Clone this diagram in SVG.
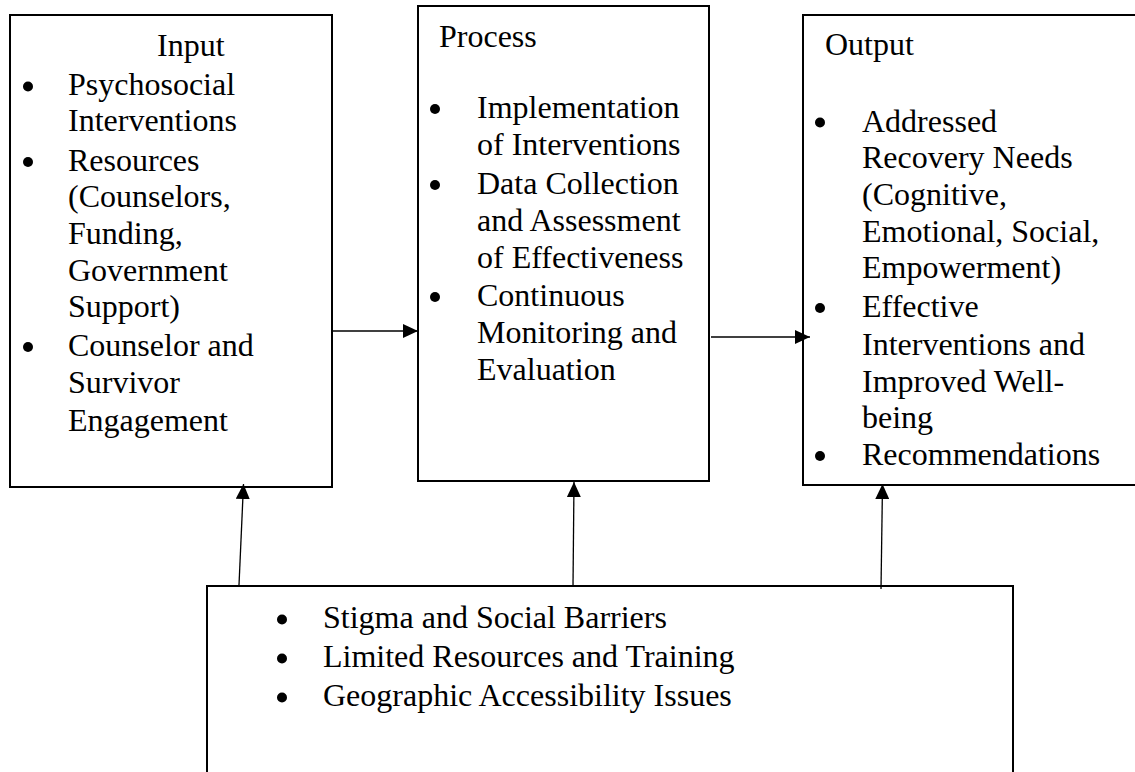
<svg xmlns="http://www.w3.org/2000/svg" width="1135" height="772" viewBox="0 0 1135 772">
  <defs>
    <marker id="arrow" viewBox="0 0 15 14" refX="15" refY="7" markerWidth="15" markerHeight="14" markerUnits="userSpaceOnUse" orient="auto">
      <path d="M0,0 L15,7 L0,14 Z" fill="#000"/>
    </marker>
    <style>
      .box { fill: #fff; stroke: #000; stroke-width: 2; }
      .conn { stroke: #000; stroke-width: 1.3; fill: none; marker-end: url(#arrow); }
      .dot { fill: #000; }
      text { font-family: "Liberation Serif", "Times New Roman", serif; font-size: 32px; fill: #000; }
    </style>
  </defs>
  <rect width="1135" height="772" fill="#fff"/>

  <g id="input">
    <rect class="box" x="10" y="15" width="322" height="472"/>
    <text x="157" y="56">Input</text>
    <circle class="dot" cx="28" cy="86.5" r="5"/>
    <text x="68" y="95">Psychosocial</text>
    <text x="68" y="131">Interventions</text>
    <circle class="dot" cx="28" cy="162" r="5"/>
    <text x="68" y="171">Resources</text>
    <text x="68" y="207">(Counselors,</text>
    <text x="68" y="244">Funding,</text>
    <text x="68" y="281">Government</text>
    <text x="68" y="317">Support)</text>
    <circle class="dot" cx="28" cy="347" r="5"/>
    <text x="68" y="356">Counselor and</text>
    <text x="68" y="393">Survivor</text>
    <text x="68" y="431">Engagement</text>
  </g>

  <g id="process">
    <rect class="box" x="418" y="6" width="291" height="475"/>
    <text x="439" y="47">Process</text>
    <circle class="dot" cx="435" cy="109" r="5"/>
    <text x="477" y="118">Implementation</text>
    <text x="477" y="155">of Interventions</text>
    <circle class="dot" cx="435" cy="185" r="5"/>
    <text x="477" y="194">Data Collection</text>
    <text x="477" y="231">and Assessment</text>
    <text x="477" y="268">of Effectiveness</text>
    <circle class="dot" cx="435" cy="297" r="5"/>
    <text x="477" y="306">Continuous</text>
    <text x="477" y="343">Monitoring and</text>
    <text x="477" y="380">Evaluation</text>
  </g>

  <g id="output">
    <rect class="box" x="803" y="15" width="340" height="470"/>
    <text x="825" y="55">Output</text>
    <circle class="dot" cx="820" cy="122.5" r="5"/>
    <text x="862" y="132">Addressed</text>
    <text x="862" y="168">Recovery Needs</text>
    <text x="862" y="205">(Cognitive,</text>
    <text x="862" y="242">Emotional, Social,</text>
    <text x="862" y="278">Empowerment)</text>
    <circle class="dot" cx="820" cy="308" r="5"/>
    <text x="862" y="317">Effective</text>
    <text x="862" y="355">Interventions and</text>
    <text x="862" y="392">Improved Well-</text>
    <text x="862" y="428">being</text>
    <circle class="dot" cx="820" cy="456" r="5"/>
    <text x="862" y="465">Recommendations</text>
  </g>

  <g id="barriers">
    <rect class="box" x="207" y="586" width="806" height="200"/>
    <circle class="dot" cx="282" cy="619.5" r="5"/>
    <text x="323" y="628">Stigma and Social Barriers</text>
    <circle class="dot" cx="282" cy="658.5" r="5"/>
    <text x="323" y="667">Limited Resources and Training</text>
    <circle class="dot" cx="282" cy="697.5" r="5"/>
    <text x="323" y="706">Geographic Accessibility Issues</text>
  </g>

  <g id="connectors">
    <line class="conn" x1="333" y1="331" x2="418" y2="331"/>
    <line class="conn" x1="711" y1="337" x2="810" y2="337"/>
    <line class="conn" x1="239" y1="585" x2="243.5" y2="484"/>
    <line class="conn" x1="573" y1="586" x2="574" y2="482"/>
    <line class="conn" x1="881" y1="589" x2="882.5" y2="484"/>
  </g>
</svg>
